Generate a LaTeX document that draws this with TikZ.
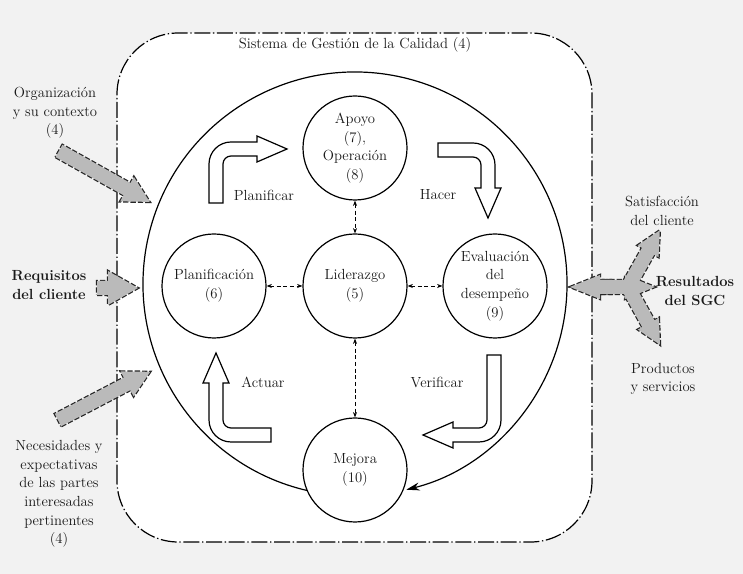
\documentclass[tikz,border=0pt]{standalone}
\usetikzlibrary{arrows.meta}

\newcommand{\sgcfont}{\fontsize{11}{14}\selectfont}

\tikzset{
  phase/.style={circle, draw, fill=white, line width=0.9pt, minimum size=78pt,
    inner sep=0pt, align=center, font=\sgcfont, text=black!90},
  link/.style={densely dashed, line width=0.5pt,
    {Stealth[length=4pt,width=3pt]}-{Stealth[length=4pt,width=3pt]}},
  txt/.style={align=center, font=\sgcfont, text=black!90},
  frame/.style={draw, fill=white, line width=0.9pt, rounded corners=46pt,
    dash pattern=on 12pt off 2pt on 1pt off 2pt},
  turnline/.style={draw, fill=white, line width=0.9pt},
  % bent PDCA arrow: #1 = height of the bend, #2 = length before the head
  pics/turn/.style args={#1/#2}{code={
    \path[turnline] (-7,0) -- (-7,#1-15) arc[start angle=180,end angle=90,radius=22]
      -- (#2,#1+7) -- (#2,#1+13) -- (#2+30,#1) -- (#2,#1-13) -- (#2,#1-7)
      -- (15,#1-7) arc[start angle=90,end angle=180,radius=8] -- (7,0) -- cycle;
  }},
  % grey block arrow: #1 = length, #2 = head length, #3 = head half width
  pics/feed/.style args={#1/#2/#3}{code={
    \path[feedpass] (0,-7) -- (#1-#2,-7) -- (#1-#2,-#3) -- (#1,0) -- (#1-#2,#3)
      -- (#1-#2,7) -- (0,7) -- cycle;
  }},
}

\begin{document}
\begin{tikzpicture}[x=0.75pt, y=0.75pt]
  \fill[black!5] (0,0) rectangle (743,574);
  \useasboundingbox (0,0) rectangle (743,574);

  % system frame
  \path[frame] (117,32) rectangle (592,541);
  \node[txt] (sgc) at (355,529) {Sistema de Gestión de la Calidad (4)};

  % big cycle
  \coordinate (ring) at (355,290);
  \draw[line width=0.9pt, -{Stealth[length=10pt,width=6pt]}]
    ([shift={(257:212)}]ring) arc[start angle=257, end angle=-76, radius=212];

  \node[phase] (apoyo)  at (355,426) {Apoyo\\(7),\\Operación\\(8)};
  \node[phase] (plan)   at (214,288) {Planificación\\(6)};
  \node[phase] (lider)  at (355,288) {Liderazgo\\(5)};
  \node[phase] (eval)   at (495,288) {Evaluación\\del\\desempeño\\(9)};
  \node[phase] (mejora) at (355,104) {Mejora\\(10)};

  \draw[link] (plan) -- (lider);
  \draw[link] (lider) -- (eval);
  \draw[link] (apoyo) -- (lider);
  \draw[link] (lider) -- (mejora);

  % PDCA arrows
  \pic at (216,371) {turn=54/41};
  \pic[rotate=-90] at (438,424) {turn=50/38};
  \pic[rotate=180] at (494,219) {turn=80/41};
  \pic[rotate=90] at (271,139) {turn=55/52};

  \node[txt] (planificar) at (264,379) {Planificar};
  \node[txt] (hacer)      at (438,379) {Hacer};
  \node[txt] (actuar)     at (263,192) {Actuar};
  \node[txt] (verificar)  at (437,192) {Verificar};

  % inputs and outputs
  \def\feeds{
    \pic[rotate=-29.3] at (59,423) {feed=104/26/14};
    \pic at (97,286) {feed=41/30/17};
    \pic[rotate=27.6] at (58,154) {feed=104/26/14};
    \pic[rotate=180] at (612,287) {feed=42/30/12};
    \pic at (600,287) {feed=55/30/12};
    \pic[rotate=60.7] at (628,287) {feed=65/24/12};
    \pic[rotate=-61] at (628,287) {feed=66/24/12};
  }
  \begin{scope}[feedpass/.style={draw=black!85, line width=1.8pt,
      dash pattern=on 4pt off 1.5pt}]
    \feeds
  \end{scope}
  \begin{scope}[feedpass/.style={fill=black!27}]
    \feeds
  \end{scope}

  \node[txt] (contexto) at (55,461) {Organización\\y su contexto\\(4)};
  \node[txt, font=\sgcfont\bfseries] (requisitos) at (49,289) {Requisitos\\del cliente};
  \node[txt] (partes) at (59,80)
    {Necesidades y\\expectativas\\de las partes\\interesadas\\pertinentes\\(4)};
  \node[txt] (satisfaccion) at (662,363) {Satisfacción\\del cliente};
  \node[txt, font=\sgcfont\bfseries] (resultados) at (695,283) {Resultados\\del SGC};
  \node[txt] (productos) at (663,195) {Productos\\y servicios};
\end{tikzpicture}
\end{document}
